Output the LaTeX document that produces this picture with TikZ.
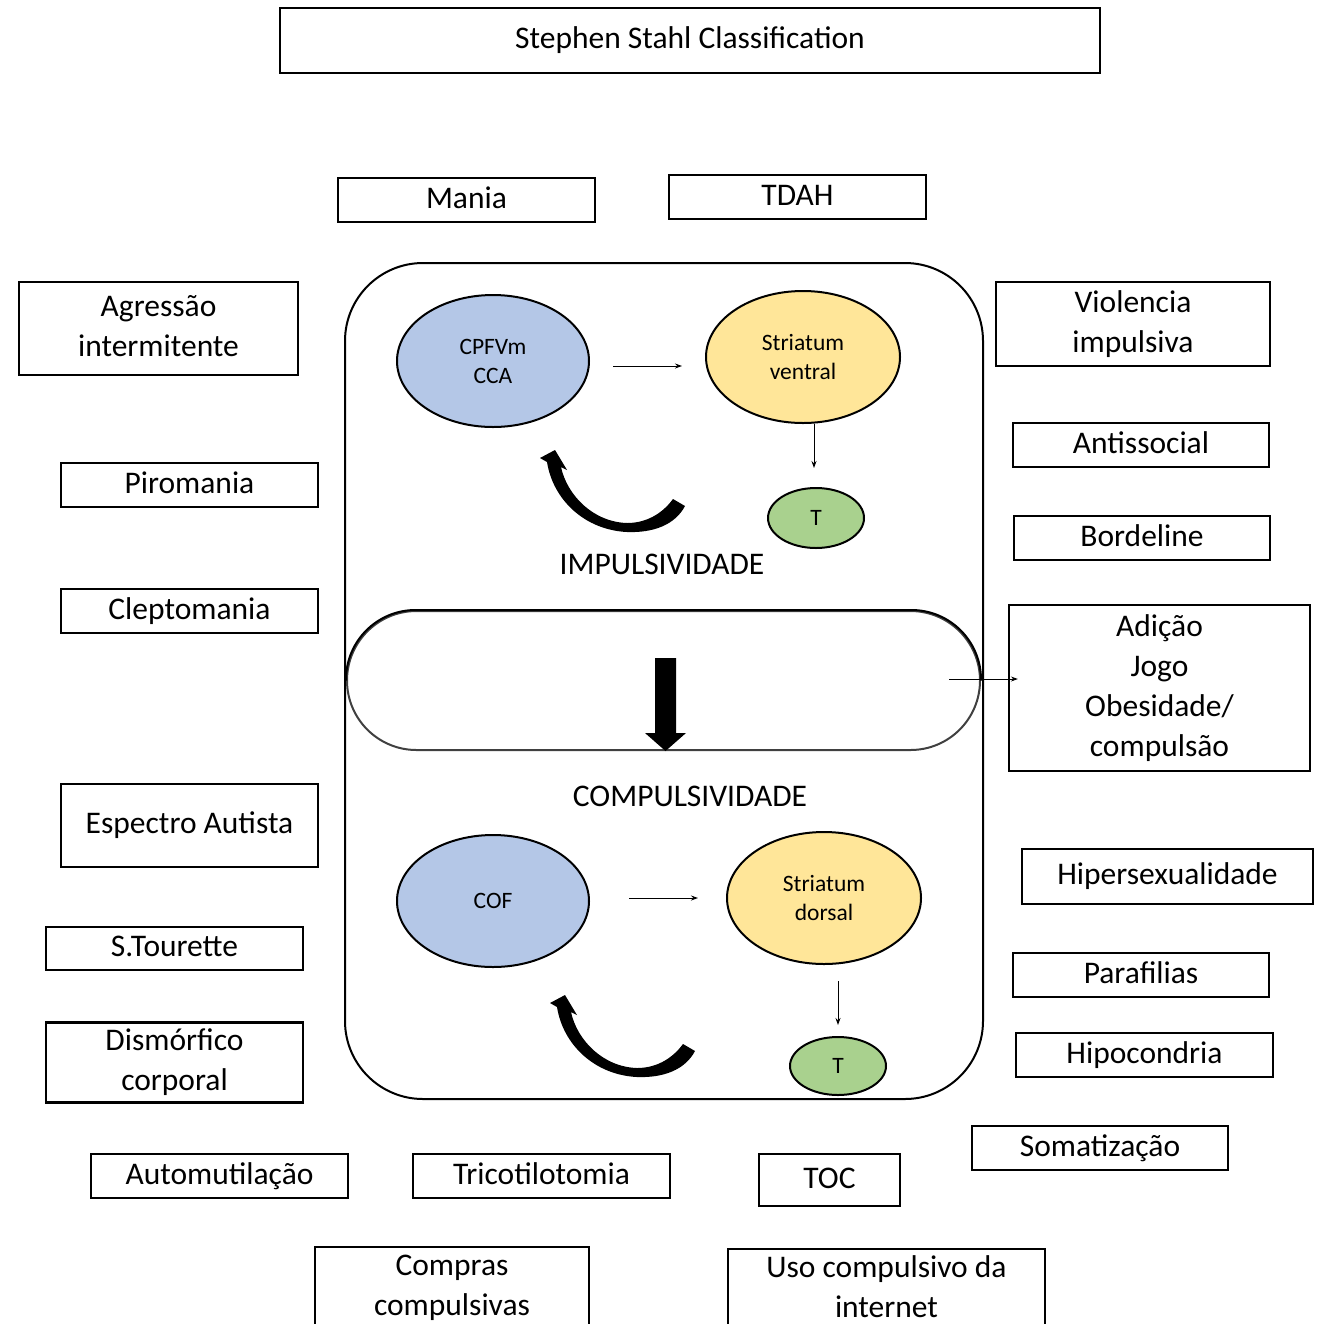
\documentclass[tikz,border=0pt]{standalone}
\usepackage{fontspec}
\setmainfont{Carlito}
\usetikzlibrary{shapes.geometric,arrows.meta,calc}

\definecolor{cortex}{HTML}{B4C7E7}
\definecolor{striatum}{HTML}{FFE699}
\definecolor{thal}{HTML}{A9D18E}

\tikzset{
  box/.style={draw, line width=2.2pt, inner sep=0pt, align=center,
    font=\fontsize{31.5}{40}\selectfont},
  region/.style={ellipse, draw, line width=2pt, inner sep=0pt, align=center,
    font=\fontsize{23.5}{29}\selectfont},
  link/.style={line width=1pt, -{Stealth[length=7pt,width=5pt]}},
  heading/.style={inner sep=0pt, font=\fontsize{31.5}{40}\selectfont},
  swirl/.pic={
    \fill (-8,12) -- (-15,8) -- (0,0) -- (12,20) -- (6,17)
      .. controls (12,45) and (38,72) .. (72,73)
      .. controls (95,73) and (110,60) .. (118,49)
      -- (130,56)
      .. controls (120,75) and (98,83) .. (72,82)
      .. controls (30,80) and (-2,50) .. (-8,12) -- cycle;
  }
}

\begin{document}
\begin{tikzpicture}[x=1pt,y=-1pt]
\useasboundingbox (0,0) rectangle (1330,1323);

% central frame and the transition band
\node[draw, line width=2pt, minimum width=638, minimum height=836,
  rounded corners=78pt] (frame) at (664,681) {};
\node[draw=black!75, line width=2pt, minimum width=633, minimum height=139,
  rounded corners=69.5pt] (pill) at (663.5,680.5) {};
\draw[line width=2pt, rounded corners=69.5pt]
  (pill.west) |- (pill.north) -| (pill.east);

% title
\node[box, minimum width=820, minimum height=65] (title) at (690,40.5) {\strut Stephen Stahl Classification};

% disorders
\node[box, minimum width=257, minimum height=44] (mania) at (466.5,200) {\strut Mania};
\node[box, minimum width=257, minimum height=44] (tdah) at (797.5,197) {\strut TDAH};
\node[box, minimum width=279, minimum height=93] (agressao) at (158.5,328.5) {\strut Agressão\\\strut intermitente};
\node[box, minimum width=274, minimum height=84] (violencia) at (1133,324) {\strut Violencia\\\strut impulsiva};
\node[box, minimum width=257, minimum height=44] (piromania) at (189.5,485) {\strut Piromania};
\node[box, minimum width=256, minimum height=44] (antissocial) at (1141,445) {\strut Antissocial};
\node[box, minimum width=256, minimum height=44] (bordeline) at (1142,538) {\strut Bordeline};
\node[box, minimum width=257, minimum height=44] (cleptomania) at (189.5,611) {\strut Cleptomania};
\node[box, minimum width=301, minimum height=166] (adicao) at (1159.5,688) {\strut Adição\\\strut Jogo\\\strut Obesidade/\\\strut compulsão};
\node[box, minimum width=257, minimum height=83] (espectro) at (189.5,825.5) {\strut Espectro Autista};
\node[box, minimum width=291, minimum height=55] (hipersex) at (1167.5,876.5) {\strut Hipersexualidade};
\node[box, minimum width=257, minimum height=43] (tourette) at (174.5,948.5) {\strut S.Tourette};
\node[box, minimum width=256, minimum height=44] (parafilias) at (1141,975) {\strut Parafilias};
\node[box, minimum width=257, minimum height=73] (dismorfico) at (174.5,1062.5) {\strut Dismórfico\\\strut corporal};
\node[box, minimum width=257, minimum height=44] (hipocondria) at (1144.5,1055) {\strut Hipocondria};
\node[box, minimum width=256, minimum height=44] (somatizacao) at (1100,1148) {\strut Somatização};
\node[box, minimum width=257, minimum height=44] (automutilacao) at (219.5,1176) {\strut Automutilação};
\node[box, minimum width=257, minimum height=44] (tricotilotomia) at (541.5,1176) {\strut Tricotilotomia};
\node[box, minimum width=141, minimum height=52] (toc) at (829.5,1180) {\strut TOC};
\node[box, minimum width=274, minimum height=76] (compras) at (452,1287) {\strut Compras\\\strut compulsivas};
\node[box, minimum width=317, minimum height=74] (uso) at (886.5,1289) {\strut Uso compulsivo da\\\strut internet};

% impulsivity circuit
\node[region, fill=cortex, minimum width=192, minimum height=132] (cpf) at (493,361) {CPFVm\\CCA};
\node[region, fill=striatum, minimum width=194, minimum height=132] (sv) at (803,357) {Striatum\\ventral};
\node[region, fill=thal, minimum width=96, minimum height=60] (t1) at (816,518) {T};
\node[heading] (imp) at (662,564) {IMPULSIVIDADE};

% compulsivity circuit
\node[heading] (comp) at (690,796) {COMPULSIVIDADE};
\node[region, fill=cortex, minimum width=192, minimum height=132] (cof) at (493,901) {COF};
\node[region, fill=striatum, minimum width=194, minimum height=132] (sd) at (824,898) {Striatum\\dorsal};
\node[region, fill=thal, minimum width=96, minimum height=58] (t2) at (838,1066) {T};

% connectors
\draw[link, shorten <=23pt, shorten >=23pt]
  ([yshift=-5pt]cpf.east) -- ([yshift=-5pt]cpf.east -| sv.west);
\draw[link, shorten >=19pt]
  ([xshift=11pt]sv.south) -- ([xshift=11pt]sv.south |- t1.north);
\draw[link, shorten <=39pt, shorten >=28pt]
  ([yshift=3pt]cof.east) -- ([yshift=3pt]cof.east -| sd.west);
\draw[link, shorten <=16pt, shorten >=11pt]
  ([xshift=14pt]sd.south) -- ([xshift=14pt]sd.south |- t2.north);
\draw[link]
  ($(pill.east)+(-32,-1.5)$) -- ($(pill.east -| adicao.west)+(10,-1.5)$);

% loop arrows
\pic at (555,450) {swirl};
\pic at (565,995) {swirl};

% shift from impulsivity to compulsivity
\fill (655,658) -- (676,658) -- (676,733) -- (686,733) -- (665.5,751)
  -- (645,733) -- (655,733) -- cycle;
\end{tikzpicture}
\end{document}
